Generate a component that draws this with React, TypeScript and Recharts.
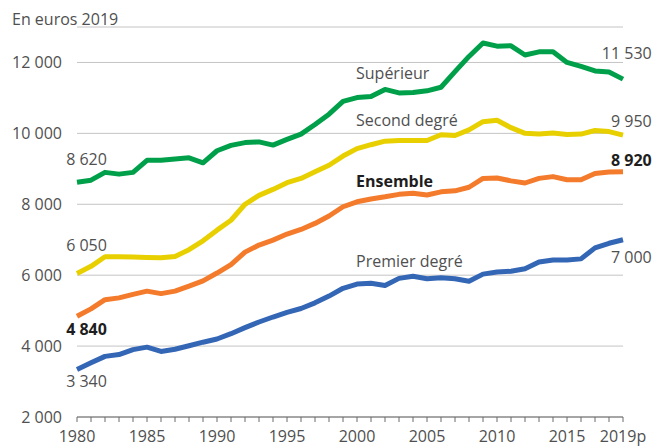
import React from "react";
import { LineChart, Line, XAxis, YAxis, CartesianGrid } from "recharts";

const years = [
  1980, 1981, 1982, 1983, 1984, 1985, 1986, 1987, 1988, 1989,
  1990, 1991, 1992, 1993, 1994, 1995, 1996, 1997, 1998, 1999,
  2000, 2001, 2002, 2003, 2004, 2005, 2006, 2007, 2008, 2009,
  2010, 2011, 2012, 2013, 2014, 2015, 2016, 2017, 2018, 2019,
];

const superieur = [
  8620, 8680, 8900, 8850, 8900, 9240, 9240, 9280, 9310, 9170,
  9510, 9660, 9740, 9760, 9670, 9830, 9980, 10250, 10540, 10900,
  11010, 11040, 11240, 11140, 11150, 11200, 11300, 11740, 12170, 12550,
  12460, 12470, 12210, 12300, 12300, 12000, 11890, 11760, 11730, 11530,
];

const secondDegre = [
  6050, 6250, 6520, 6520, 6510, 6500, 6490, 6530, 6720, 6970,
  7270, 7550, 8000, 8250, 8420, 8610, 8730, 8920, 9100, 9360,
  9570, 9680, 9780, 9800, 9800, 9800, 9960, 9940, 10100, 10330,
  10370, 10160, 10000, 9980, 10010, 9970, 9980, 10080, 10050, 9950,
];

const ensemble = [
  4840, 5050, 5310, 5360, 5460, 5550, 5480, 5550, 5690, 5840,
  6060, 6300, 6650, 6850, 6990, 7160, 7290, 7460, 7670, 7930,
  8070, 8150, 8210, 8280, 8310, 8260, 8350, 8380, 8480, 8730,
  8740, 8660, 8600, 8730, 8780, 8690, 8690, 8870, 8910, 8920,
];

const premierDegre = [
  3340, 3530, 3710, 3760, 3900, 3970, 3850, 3910, 4010, 4110,
  4200, 4350, 4520, 4680, 4820, 4950, 5060, 5220, 5410, 5630,
  5750, 5770, 5710, 5910, 5970, 5900, 5930, 5900, 5830, 6030,
  6090, 6110, 6180, 6370, 6430, 6430, 6460, 6770, 6900, 7000,
];

const yTicks = [2000, 4000, 6000, 8000, 10000, 12000];
const labeledYears = [1980, 1985, 1990, 1995, 2000, 2005, 2010, 2015, 2019];
const yearLabels = ["1980", "1985", "1990", "1995", "2000", "2005", "2010", "2015", "2019p"];
const unitLabel = "En euros 2019";

const data = years.map((y, i) => ({
  year: y,
  sup: superieur[i],
  sec: secondDegre[i],
  ens: ensemble[i],
  pre: premierDegre[i],
}));

const FONT = "'Open Sans', sans-serif";
const GREY = "#505050";
const DARK = "#1e1e1e";

const fmt = (v: number) => {
  const s = String(Math.round(v));
  return s.replace(/\B(?=(\d{3})+(?!\d))/g, " ");
};

type Cfg = {
  key: string;
  name: string;
  color: string;
  bold: boolean;
  startDy: number;
  endDy: number;
  nameDy: number;
};

const series: Cfg[] = [
  { key: "pre", name: "Premier degré", color: "#3466b6", bold: false, startDy: 18, endDy: 23, nameDy: -17 },
  { key: "ens", name: "Ensemble", color: "#f37b2b", bold: true, startDy: 18.6, endDy: -6, nameDy: -15 },
  { key: "sec", name: "Second degré", color: "#e8d000", bold: false, startDy: -22.5, endDy: -8, nameDy: -23 },
  { key: "sup", name: "Supérieur", color: "#00a04b", bold: false, startDy: -17.5, endDy: -20.5, nameDy: -19 },
];

const NAME_INDEX = 20;

const makeLabel = (cfg: Cfg) => (props: any) => {
  const { x, y, index, value } = props;
  const style = {
    fontFamily: FONT,
    fontSize: 16,
    fill: cfg.bold ? DARK : GREY,
    fontWeight: cfg.bold ? 700 : 400,
  } as const;
  if (index === 0) {
    return (
      <text key={`s${cfg.key}`} x={x + 9.5} y={y + cfg.startDy} textAnchor="middle" {...style}>
        {fmt(value)}
      </text>
    );
  }
  if (index === years.length - 1) {
    return (
      <text key={`e${cfg.key}`} x={x + 28.7} y={y + cfg.endDy} textAnchor="end" {...style}>
        {fmt(value)}
      </text>
    );
  }
  if (index === NAME_INDEX) {
    return (
      <text key={`n${cfg.key}`} x={x - 1} y={y + cfg.nameDy} textAnchor="start" {...style}>
        {cfg.name}
      </text>
    );
  }
  return <g key={`g${cfg.key}${index}`} />;
};

const XTick = (props: any) => {
  const { x, y, payload } = props;
  const idx = labeledYears.indexOf(payload.value);
  if (idx < 0) return <g />;
  return (
    <text x={x} y={y} dy={20} textAnchor="middle" fontFamily={FONT} fontSize={16} fill={GREY}>
      {yearLabels[idx]}
    </text>
  );
};

const YTick = (props: any) => {
  const { x, y, payload } = props;
  return (
    <text x={x} y={y} dy={5.5} textAnchor="end" fontFamily={FONT} fontSize={16} fill={GREY}>
      {fmt(payload.value)}
    </text>
  );
};

export default function App() {
  return (
    <div style={{ position: "absolute", left: 0, top: 0, width: 654, height: 447, background: "#fff" }}>
      <div
        style={{
          position: "absolute",
          left: 12,
          top: 9,
          fontFamily: FONT,
          fontSize: 16,
          color: GREY,
          lineHeight: "20px",
          whiteSpace: "nowrap",
        }}
      >
        {unitLabel}
      </div>
      <LineChart
        width={654}
        height={447}
        data={data}
        margin={{ top: 27, right: 31, bottom: 0, left: 0 }}
      >
        <CartesianGrid horizontal vertical={false} stroke="#c4c4c4" strokeWidth={1} />
        <XAxis
          dataKey="year"
          type="number"
          domain={[1980, 2019]}
          ticks={years}
          interval={0}
          height={30}
          tickSize={5}
          tickMargin={0}
          axisLine={{ stroke: "#6a6a6a" }}
          tickLine={{ stroke: "#6a6a6a" }}
          tick={<XTick />}
        />
        <YAxis
          type="number"
          domain={[2000, 13000]}
          ticks={yTicks}
          width={77}
          axisLine={false}
          tickLine={false}
          tickSize={0}
          tickMargin={15}
          tick={<YTick />}
        />
        {series.map((s) => (
          <Line
            key={s.key}
            dataKey={s.key}
            type="linear"
            stroke={s.color}
            strokeWidth={5}
            dot={false}
            activeDot={false}
            strokeLinejoin="round"
            isAnimationActive={false}
            label={makeLabel(s)}
          />
        ))}
      </LineChart>
    </div>
  );
}
